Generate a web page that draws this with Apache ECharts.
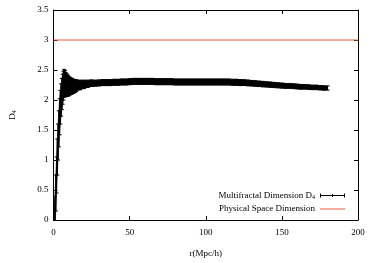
<!DOCTYPE html>
<html><head><meta charset="utf-8">
<script src="https://cdn.jsdelivr.net/npm/echarts@6/dist/echarts.min.js"></script>
<style>html,body{margin:0;padding:0;background:#fff}#c{width:374px;height:263px}</style>
</head><body><div id="c"></div>
<script>
// r (Mpc/h)
const rVals = [0.5,1,1.5,2,2.5,3,3.5,4,4.5,5,5.5,6,6.5,7,7.5,8,8.5,9,9.5,10,10.5,11,11.5,12,12.5,13,13.5,14,14.5,15,
  17.5,20,22.5,25,27.5,30,32.5,35,37.5,40,
  42.5,45,47.5,50,52.5,55,57.5,60,62.5,65,
  67.5,70,72.5,75,77.5,80,82.5,85,87.5,90,
  92.5,95,97.5,100,102.5,105,107.5,110,112.5,115,
  117.5,120,122.5,125,127.5,130,132.5,135,137.5,140,
  142.5,145,147.5,150,152.5,155,157.5,160,162.5,165,
  167.5,170,172.5,175,177.5,180];
// multifractal dimension D4
const d4Vals = [0.02,0.15,0.45,0.75,1.05,1.3,1.52,1.72,1.88,2.0,2.1,2.18,2.24,2.28,2.27,2.26,2.25,2.24,2.24,2.23,2.23,2.23,2.23,2.23,2.23,2.23,2.23,2.23,2.24,2.24,
  2.25,2.26,2.27,2.28,2.28,2.285,2.29,2.29,2.29,2.295,
  2.295,2.3,2.3,2.305,2.31,2.31,2.31,2.31,2.31,2.31,
  2.305,2.305,2.305,2.305,2.305,2.3,2.3,2.3,2.3,2.3,
  2.3,2.3,2.3,2.3,2.3,2.3,2.3,2.3,2.3,2.3,
  2.295,2.295,2.29,2.29,2.285,2.28,2.275,2.27,2.265,2.26,
  2.255,2.25,2.245,2.24,2.235,2.235,2.23,2.225,2.22,2.22,
  2.215,2.21,2.21,2.205,2.2,2.2];
// error on D4
const d4Err = [0.15,0.25,0.3,0.3,0.3,0.3,0.3,0.3,0.28,0.27,0.26,0.25,0.24,0.23,0.22,0.2,0.19,0.18,0.17,0.16,0.15,0.14,0.135,0.13,0.12,0.115,0.11,0.105,0.1,0.095,
  0.08,0.07,0.06,0.055,0.05,0.05,0.05,0.05,0.05,0.05,
  0.05,0.05,0.05,0.05,0.05,0.05,0.05,0.05,0.05,0.05,
  0.05,0.05,0.05,0.05,0.05,0.05,0.05,0.05,0.05,0.05,
  0.05,0.05,0.05,0.05,0.05,0.05,0.05,0.05,0.05,0.05,
  0.05,0.05,0.05,0.048,0.048,0.046,0.046,0.045,0.045,0.044,
  0.044,0.043,0.042,0.042,0.041,0.04,0.04,0.04,0.039,0.038,
  0.038,0.037,0.037,0.036,0.036,0.035];
// physical space dimension line
const physR = [0, 200];
const physD = [3, 3];
const xTicks = [0, 50, 100, 150, 200];
const yTicks = [0, 0.5, 1, 1.5, 2, 2.5, 3, 3.5];

const NAME_D4 = 'Multifractal Dimension D4';
const NAME_PHYS = 'Physical Space Dimension';
const FONT = 'Liberation Serif';
const RED = '#ee5a3c';

const errData = rVals.map((x, i) => [x, d4Vals[i], d4Err[i]]);
const n = errData.length;

const chart = echarts.init(document.getElementById('c'), null, {renderer: 'canvas'});
const axisCommon = {
  type: 'value', splitLine: {show: false},
  axisLine: {show: true, onZero: false, lineStyle: {color: '#000', width: 1}},
  axisTick: {show: true, inside: true, length: 4, lineStyle: {color: '#000'}},
};
chart.setOption({
  animation: false,
  grid: {left: 48, right: 16, top: 10, bottom: 43, containLabel: false},
  xAxis: [
    Object.assign({}, axisCommon, {min: xTicks[0], max: xTicks[xTicks.length-1], interval: 50, position: 'bottom',
      name: 'r(Mpc/h)', nameLocation: 'middle', nameGap: 29,
      nameTextStyle: {fontFamily: FONT, fontSize: 9, color: '#000'},
      axisLabel: {fontFamily: FONT, fontSize: 9, color: '#000', margin: 8}}),
    Object.assign({}, axisCommon, {min: xTicks[0], max: xTicks[xTicks.length-1], interval: 50, position: 'top',
      axisLabel: {show: false}})
  ],
  yAxis: [
    Object.assign({}, axisCommon, {min: yTicks[0], max: yTicks[yTicks.length-1], interval: 0.5, position: 'left',
      name: 'D{sub|4}', nameLocation: 'middle', nameGap: 36, nameRotate: 90,
      nameTextStyle: {fontFamily: FONT, fontSize: 9, color: '#000', rich: {sub: {fontFamily: FONT, fontSize: 6, padding: [4,0,0,0]}}},
      axisLabel: {fontFamily: FONT, fontSize: 9, color: '#000', margin: 5}}),
    Object.assign({}, axisCommon, {min: yTicks[0], max: yTicks[yTicks.length-1], interval: 0.5, position: 'right',
      axisLabel: {show: false}})
  ],
  legend: {
    orient: 'vertical', right: 24, top: 186, align: 'right',
    itemWidth: 25, itemHeight: 8, itemGap: 4,
    textStyle: {fontFamily: FONT, fontSize: 9, color: '#000',
      rich: {sub: {fontFamily: FONT, fontSize: 6, padding: [4,0,0,0]}}},
    formatter: nm => nm === NAME_D4 ? 'Multifractal Dimension D{sub|4}' : nm,
    data: [
      {name: NAME_D4, icon: 'path://M0,3.5H25V4.5H0Z M0,2H1V6H0Z M24,2H25V6H24Z M12,2.5H13V5.5H12Z', itemStyle: {color: '#000'}},
      {name: NAME_PHYS, icon: 'path://M0,0H25V1H0Z', itemStyle: {color: RED}}
    ]
  },
  series: [
    {
      name: NAME_PHYS, type: 'line', xAxisIndex: 0, yAxisIndex: 0,
      data: physR.map((x, i) => [x, physD[i]]),
      symbol: 'none', lineStyle: {color: RED, width: 1}, itemStyle: {color: RED}
    },
    {
      name: NAME_D4, type: 'custom', xAxisIndex: 0, yAxisIndex: 0, clip: true,
      itemStyle: {color: '#000'},
      data: errData,
      encode: {x: 0, y: [1]},
      renderItem: function (params, api) {
        const i = params.dataIndex;
        const x = api.value(0), y = api.value(1), e = api.value(2);
        const top = api.coord([x, y + e]);
        const bot = api.coord([x, y - e]);
        const children = [];
        if (i < n - 1) {
          const nx = errData[i+1];
          const p2t = api.coord([nx[0], nx[1] + nx[2]]);
          const p2b = api.coord([nx[0], nx[1] - nx[2]]);
          children.push({type: 'polygon', shape: {points: [top, p2t, p2b, bot]}, style: {fill: '#000', stroke: '#000', lineWidth: 0.5}});
        }
        children.push({type: 'line', shape: {x1: top[0], y1: top[1], x2: bot[0], y2: bot[1]}, style: {stroke: '#000', lineWidth: 1}});
        children.push({type: 'line', shape: {x1: top[0]-2, y1: top[1], x2: top[0]+2, y2: top[1]}, style: {stroke: '#000', lineWidth: 1}});
        children.push({type: 'line', shape: {x1: bot[0]-2, y1: bot[1], x2: bot[0]+2, y2: bot[1]}, style: {stroke: '#000', lineWidth: 1}});
        return {type: 'group', children: children};
      }
    }
  ]
});
</script></body></html>
